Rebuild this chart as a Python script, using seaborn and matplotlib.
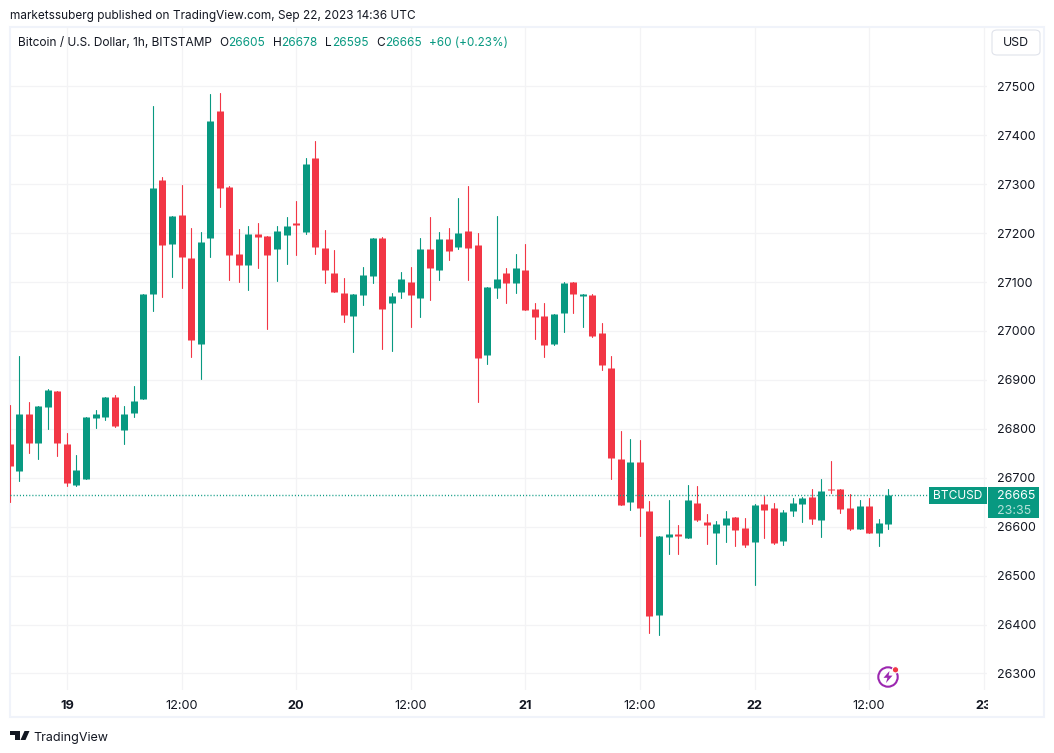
import numpy as np
import pandas as pd
import matplotlib
matplotlib.use("Agg")
import matplotlib.pyplot as plt
from matplotlib.patches import Rectangle, FancyBboxPatch, Polygon, Circle
from matplotlib.transforms import Bbox
import seaborn as sns

W, H = 1054, 753

# hours counted from Sep 19 00:00
hours = list(range(-6, 87))
opens = [26768, 26713, 26831, 26770, 26844, 26878, 26768, 26686, 26697, 26823, 26825, 26866,
         26797, 26833, 26860, 27076, 27309, 27178, 27237, 27150, 26974, 27189, 27450, 27295,
         27158, 27135, 27199, 27195, 27168, 27197, 27221, 27203, 27354, 27170, 27119, 27078,
         27031, 27074, 27113, 27190, 27058, 27080, 27101, 27068, 27168, 27125, 27188, 27172,
         27205, 27176, 26950, 27088, 27119, 27097, 27125, 27044, 27031, 26974, 27037, 27101,
         27072, 27074, 26995, 26925, 26739, 26650, 26733, 26633, 26419, 26578, 26584, 26576,
         26648, 26609, 26588, 26603, 26619, 26597, 26568, 26646, 26639, 26570, 26633, 26646,
         26660, 26613, 26678, 26676, 26639, 26595, 26642, 26588, 26605]
closes = [26723, 26831, 26770, 26846, 26880, 26770, 26689, 26715, 26825, 26831, 26866, 26805,
          26831, 26856, 27076, 27293, 27176, 27235, 27152, 26982, 27182, 27429, 27293, 27156,
          27135, 27199, 27191, 27156, 27205, 27215, 27217, 27341, 27172, 27125, 27080, 27033,
          27076, 27115, 27190, 27044, 27072, 27107, 27074, 27168, 27129, 27188, 27164, 27201,
          27170, 26944, 27090, 27107, 27099, 27129, 27042, 27029, 26972, 27035, 27099, 27076,
          27076, 26990, 26931, 26740, 26644, 26733, 26639, 26417, 26580, 26584, 26580, 26654,
          26613, 26603, 26605, 26617, 26593, 26562, 26644, 26635, 26566, 26631, 26648, 26658,
          26615, 26672, 26674, 26637, 26595, 26642, 26588, 26607, 26665]
highs = [26848, 26948, 26854, 26846, 26882, 26878, 26791, 26746, 26825, 26839, 26866, 26870,
         26846, 26888, 27076, 27460, 27315, 27235, 27299, 27211, 27203, 27484, 27486, 27297,
         27209, 27215, 27221, 27195, 27215, 27233, 27266, 27354, 27388, 27207, 27166, 27109,
         27076, 27131, 27190, 27193, 27078, 27121, 27131, 27190, 27233, 27203, 27211, 27272,
         27297, 27201, 27090, 27235, 27129, 27158, 27178, 27058, 27058, 27035, 27101, 27101,
         27076, 27076, 27017, 26948, 26795, 26780, 26778, 26652, 26580, 26654, 26603, 26686,
         26684, 26625, 26611, 26633, 26619, 26617, 26646, 26662, 26648, 26635, 26658, 26660,
         26676, 26697, 26735, 26676, 26666, 26654, 26658, 26615, 26678]
lows = [26650, 26693, 26750, 26739, 26799, 26744, 26684, 26684, 26697, 26801, 26817, 26803,
        26768, 26825, 26860, 27040, 27070, 27111, 27087, 26946, 26901, 27152, 27254, 27105,
        27101, 27084, 27129, 27003, 27103, 27137, 27156, 27199, 27158, 27097, 27080, 27019,
        26956, 27054, 27097, 26964, 26960, 27068, 27009, 27029, 27064, 27105, 27146, 27168,
        27105, 26854, 26933, 27068, 27058, 27078, 27042, 26984, 26946, 26972, 26997, 27037,
        27009, 26988, 26921, 26697, 26644, 26635, 26580, 26382, 26378, 26544, 26544, 26576,
        26611, 26564, 26523, 26568, 26560, 26558, 26480, 26576, 26564, 26562, 26621, 26609,
        26605, 26578, 26668, 26627, 26593, 26595, 26588, 26560, 26595]

price_ticks = list(range(26300, 27600, 100))
time_ticks = [0, 12, 24, 36, 48, 60, 72, 84, 96]
time_labels = ["19", "12:00", "20", "12:00", "21", "12:00", "22", "12:00", "23"]
last_price = 26665

GREEN = "#089981"
RED = "#f23645"
GRID = "#f3f3f5"
FRAME = "#f0f3fa"
INK = "#131722"

df = pd.DataFrame({"hour": hours, "open": opens, "close": closes, "high": highs, "low": lows})
df["side"] = np.where(df["close"] >= df["open"], "up", "down")
wicks = df.melt(id_vars=["hour", "side"], value_vars=["high", "low"], value_name="price")
bodies = df.melt(id_vars=["hour", "side"], value_vars=["open", "close"], value_name="price")
pal = {"up": GREEN, "down": RED}

sns.set_theme(style="white")
plt.rcParams["font.family"] = ["Inter", "DejaVu Sans"]


def fx(x):
    return x / W


def fy(y):
    return 1 - y / H


fig = plt.figure(figsize=(W / 100, H / 100), dpi=100, facecolor="white")

# frame around the chart, drawn under the axes
fig.add_artist(Rectangle((fx(10), fy(717)), fx(1034), 690 / H, transform=fig.transFigure,
                         fill=False, edgecolor=FRAME, linewidth=1.5, zorder=0))

# pane spans pixels 10-987 across, 27-690 down
ax = fig.add_axes([fx(10), fy(690), fx(977), 663 / H], facecolor="none", zorder=1)
sns.lineplot(data=wicks, x="hour", y="price", units="hour", hue="side", palette=pal, estimator=None,
             sort=False, linewidth=0.8, legend=False, ax=ax, zorder=3)
sns.lineplot(data=bodies, x="hour", y="price", units="hour", hue="side", palette=pal, estimator=None,
             sort=False, linewidth=5.04, legend=False, ax=ax, zorder=4,
             solid_capstyle="butt")

px_per_hour = 9.55
px_per_usd = 0.4893
ax.set_xlim(-(66.9 - 10) / px_per_hour, (987 - 66.9) / px_per_hour)
ax.set_ylim(27500 - (690 - 86.3) / px_per_usd, 27500 + (86.3 - 27) / px_per_usd)
ax.set_xticks(time_ticks)
ax.set_xticklabels(time_labels)
ax.set_yticks(price_ticks)
ax.yaxis.tick_right()
ax.grid(True, color=GRID, linewidth=0.9)
ax.set_axisbelow(True)
ax.set_xlabel("")
ax.set_ylabel("")
for s in ax.spines.values():
    s.set_visible(False)
ax.tick_params(axis="y", length=0, pad=7.5, labelsize=8.95, labelcolor=INK)
ax.tick_params(axis="x", length=0, pad=7.5, labelsize=9.2, labelcolor=INK)
for lab, txt in zip(ax.get_xticklabels(), time_labels):
    if ":" not in txt:
        lab.set_fontweight("bold")
    # the "23" is cut by the price scale
    lab.set_clip_box(Bbox([[0, 0], [988, H]]))
    lab.set_clip_on(True)

ax.axhline(last_price, color=GREEN, linestyle=(0, (0.75, 1.5)), linewidth=1.0, zorder=6)

# last price tags
fig.add_artist(Rectangle((fx(929), fy(504)), 58 / W, 17 / H, transform=fig.transFigure,
                         facecolor=GREEN, edgecolor="none", zorder=5))
fig.add_artist(Rectangle((fx(988), fy(518)), 51 / W, 31 / H, transform=fig.transFigure,
                         facecolor=GREEN, edgecolor="none", zorder=5))
fig.text(fx(958), fy(496), "BTCUSD", color="white", fontsize=8.6, ha="center", va="center", zorder=6)
fig.text(fx(997), fy(496), str(last_price), color="white", fontsize=8.95, va="center", zorder=6)
fig.text(fx(997), fy(510.5), "23:35", color="white", alpha=0.7, fontsize=8.95, va="center", zorder=6)

# currency button
fig.add_artist(FancyBboxPatch((fx(992), fy(55)), 48 / W, 25 / H, transform=fig.transFigure,
                              boxstyle="round,pad=0,rounding_size=0.005", mutation_aspect=1,
                              facecolor="white", edgecolor="#e0e3eb", linewidth=0.8, zorder=5))
fig.text(fx(1015.5), fy(43.5), "USD", color=INK, fontsize=8.9, ha="center", va="center", zorder=6)

# header lines
fig.text(fx(10), fy(15.5), "marketssuberg published on TradingView.com, Sep 22, 2023 14:36 UTC",
         color=INK, fontsize=8.5, va="center")
fig.text(fx(18), fy(42.5), "Bitcoin / U.S. Dollar, 1h, BITSTAMP", color=INK, fontsize=8.55, va="center", zorder=6)
for x, letter, x2, val in [(219, "O", 228, "26605"), (272.5, "H", 281.5, "26678"),
                           (325.5, "L", 332, "26595"), (376, "C", 385, "26665")]:
    fig.text(fx(x), fy(42.5), letter, color=INK, fontsize=8.55, va="center", zorder=6)
    fig.text(fx(x2), fy(42.5), val, color=GREEN, fontsize=8.55, va="center", zorder=6)
fig.text(fx(429), fy(42.5), "+60 (+0.23%)", color=GREEN, fontsize=8.45, va="center", zorder=6)

# footer logo
logo_parts = [[(10, 731), (20, 731), (20, 740), (15, 740), (15, 735), (10, 735)],
              [(24.5, 731), (29.5, 731), (25.5, 740), (20.5, 740)]]
for pts in logo_parts:
    fig.add_artist(Polygon([(fx(a), fy(b)) for a, b in pts], closed=True, transform=fig.transFigure,
                           facecolor=INK, edgecolor="none"))
fig.text(fx(33.5), fy(738), "TradingView", color=INK, fontsize=9.0, va="center")

# bolt badge
badge = fig.add_axes([fx(875), fy(690), 26 / W, 26 / H], facecolor="none", zorder=7)
badge.set_xlim(-13, 13)
badge.set_ylim(-13, 13)
badge.axis("off")
badge.add_patch(Circle((0, 0), 9.7, fill=False, edgecolor="#9c27b0", linewidth=1.5))
badge.add_patch(Polygon([(1.5, 6), (-4.5, -0.8), (-0.6, -0.8), (-2, -6), (4.5, 1.4), (0.6, 1.4)],
                        closed=True, facecolor="#9c27b0", edgecolor="none"))
badge.add_patch(Circle((7.5, 7.2), 3.2, facecolor="#f23645", edgecolor="white", linewidth=0.8, zorder=3))

fig.savefig("out.png", dpi=100)
